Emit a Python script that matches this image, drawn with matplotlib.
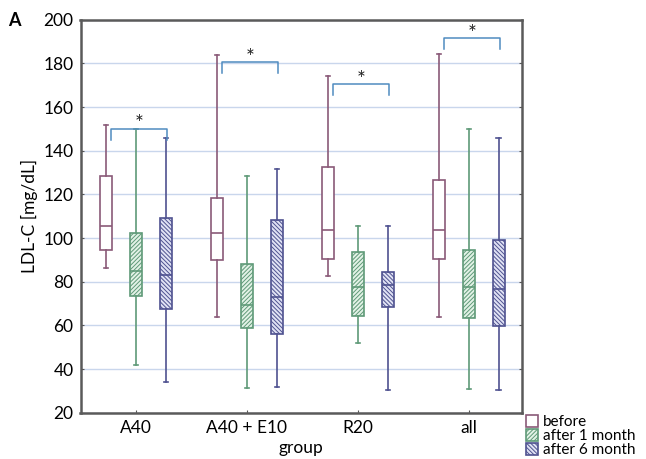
import numpy as np
import matplotlib
matplotlib.use('Agg')
import matplotlib.pyplot as plt
from matplotlib.patches import Patch

plt.rcParams['font.family'] = ['Lato', 'DejaVu Sans']
plt.rcParams['hatch.linewidth'] = 0.7

groups = ['A40', 'A40 + E10', 'R20', 'all']
series = ['before', 'after 1 month', 'after 6 month']

# per series: [A40, A40+E10, R20, all]
whis_lo = {'before': [86.5, 63.7, 82.5, 63.7],
           'after 1 month': [42, 31.2, 51.7, 31],
           'after 6 month': [34, 32, 30.2, 30.3]}
q1 = {'before': [94.7, 89.9, 90.2, 90.3],
      'after 1 month': [73.4, 58.6, 64.3, 63.6],
      'after 6 month': [67.4, 56, 68.5, 59.8]}
med = {'before': [105.4, 102.2, 103.6, 103.5],
       'after 1 month': [84.8, 69.5, 77.5, 77.5],
       'after 6 month': [83, 73, 78.4, 76.7]}
q3 = {'before': [128.3, 118.4, 132.6, 126.5],
      'after 1 month': [102.1, 88, 93.4, 94.4],
      'after 6 month': [109.2, 108.2, 84.5, 99.3]}
whis_hi = {'before': [151.8, 183.9, 174.1, 184.2],
           'after 1 month': [149.8, 128.5, 105.6, 149.8],
           'after 6 month': [145.6, 131.8, 105.6, 145.7]}

# significance brackets (level per group)
bracket_y = [150, 180.5, 170.5, 191.4]

edge = {'before': '#8a5a78', 'after 1 month': '#5f9a78', 'after 6 month': '#4f5290'}
face = {'before': 'white', 'after 1 month': '#e2f2e6', 'after 6 month': '#e0e2f4'}
hatch = {'before': None, 'after 1 month': '////////', 'after 6 month': '\\\\\\\\\\\\\\\\'}
offset = {'before': -0.27, 'after 1 month': 0.0, 'after 6 month': 0.27}

fig = plt.figure(figsize=(6.46, 4.59), dpi=100)
ax = fig.add_axes([80.5/646, 1 - 412.7/459, 441.5/646, 393/459])

x = np.arange(len(groups))
for s in series:
    stats = []
    for i in range(len(groups)):
        stats.append({'med': med[s][i], 'q1': q1[s][i], 'q3': q3[s][i],
                      'whislo': whis_lo[s][i], 'whishi': whis_hi[s][i], 'fliers': []})
    c = edge[s]
    b = ax.bxp(stats, positions=x + offset[s], widths=0.11, capwidths=0.04,
               patch_artist=True, showfliers=False, manage_ticks=False,
               boxprops=dict(edgecolor=c, facecolor=face[s], linewidth=1.2),
               medianprops=dict(color=c, linewidth=1.2),
               whiskerprops=dict(color=c, linewidth=1.2),
               capprops=dict(color=c, linewidth=1.2))
    for p in b['boxes']:
        if hatch[s]:
            p.set_hatch(hatch[s])
    for line in b['whiskers'] + b['caps'] + b['medians']:
        line.set_zorder(3)

bc = '#4f8bc0'
for i, yb in enumerate(bracket_y):
    x0, x1 = i - 0.225, i + 0.28
    ax.plot([x0, x0, x1, x1], [yb - 5, yb, yb, yb - 5], color=bc, lw=1.1, zorder=4)
    ax.text((x0 + x1) / 2, yb - 2.5, '*', ha='center', va='bottom', fontsize=15, color='#222222')

ax.set_xlim(-0.5, 3.48)
ax.set_ylim(20, 200)
ax.set_yticks(np.arange(20, 201, 20))
ax.set_xticks(x)
ax.set_xticklabels(groups)
ax.yaxis.grid(True, color='#c9d6ec', lw=1.0)
ax.set_axisbelow(True)
ax.tick_params(direction='in', length=2, labelsize=12.5, color='#555555', right=True, pad=5)
for sp in ax.spines.values():
    sp.set_color('#5a5a5a')
    sp.set_linewidth(1.8)

ax.set_ylabel('LDL-C [mg/dL]', fontsize=12.5, labelpad=4)
ax.set_xlabel('group', fontsize=12.5, labelpad=3)
fig.text(8/646, 1 - 21/459, 'A', fontsize=13, fontweight='bold', va='center')

handles = [Patch(facecolor=face[s], edgecolor=edge[s], hatch=hatch[s], lw=1.2) for s in series]
fig.legend(handles, series, loc='upper left', bbox_to_anchor=(526/646, 1 - 415/459),
           frameon=False, fontsize=11, handlelength=0.8, handleheight=0.8,
           handletextpad=0.3, labelspacing=0.0, borderpad=0, borderaxespad=0)

fig.savefig('out.png', dpi=100)
